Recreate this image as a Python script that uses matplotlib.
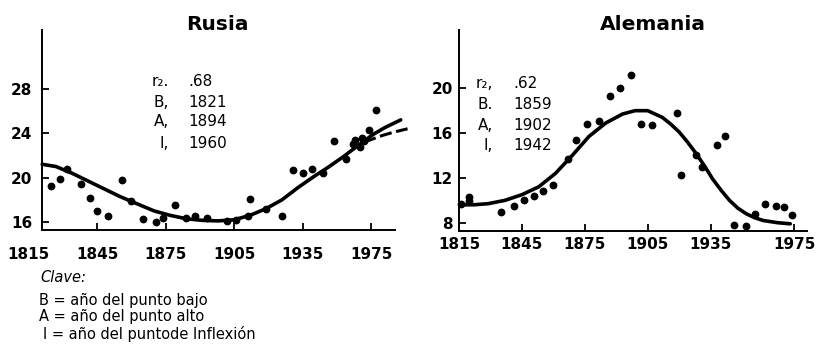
import matplotlib
matplotlib.use("Agg")
import matplotlib.pyplot as plt

# Rusia: ejes tal como en la figura (marca final "1975" a 30 años de 1935)
rus_tick_pos = [1815, 1845, 1875, 1905, 1935, 1965]
rus_tick_lab = ['1815', '1845', '1875', '1905', '1935', '1975']
rus_yticks = [16, 20, 24, 28]

rus_years = [1825, 1829, 1832, 1838, 1842, 1845, 1850, 1856, 1860, 1865, 1871,
             1874, 1879, 1884, 1888, 1893, 1902, 1906, 1911, 1912, 1919, 1926,
             1931, 1935, 1939, 1944, 1949, 1954, 1957, 1958, 1960, 1961, 1962,
             1964, 1967]
rus_vals = [19.2, 19.9, 20.8, 19.4, 18.2, 17.0, 16.5, 19.8, 17.9, 16.3, 16.0,
            16.4, 17.5, 16.4, 16.5, 16.4, 16.1, 16.2, 16.5, 18.1, 17.2, 16.5,
            20.7, 20.4, 20.8, 20.4, 23.3, 21.7, 23.0, 23.4, 22.8, 23.6, 23.3,
            24.3, 26.1]

rus_curve_years = [1821, 1827, 1834, 1841, 1848, 1855, 1863, 1870, 1877, 1884,
                   1891, 1898, 1905, 1912, 1919, 1926, 1933, 1940, 1946, 1953,
                   1960, 1966, 1971, 1978]
rus_curve_vals = [21.2, 21.0, 20.4, 19.7, 19.0, 18.3, 17.6, 17.0, 16.6, 16.3,
                  16.15, 16.1, 16.2, 16.6, 17.2, 18.0, 19.1, 20.1, 20.9, 21.9,
                  23.0, 23.9, 24.5, 25.2]
rus_dash_years = [1962, 1966, 1970, 1975, 1981]
rus_dash_vals = [23.2, 23.5, 23.8, 24.1, 24.4]

# Alemania
ale_tick_pos = [1815, 1845, 1875, 1905, 1935, 1975]
ale_tick_lab = ['1815', '1845', '1875', '1905', '1935', '1975']
ale_yticks = [8, 12, 16, 20]

ale_years = [1816, 1820, 1820, 1835, 1841, 1846, 1851, 1855, 1860, 1867, 1871,
             1876, 1882, 1887, 1892, 1897, 1902, 1907, 1919, 1921, 1928, 1931,
             1938, 1942, 1946, 1952, 1956, 1961, 1966, 1970, 1974]
ale_vals = [9.7, 9.9, 10.3, 9.0, 9.5, 10.0, 10.4, 10.8, 11.4, 13.7, 15.4,
            16.8, 17.1, 19.3, 20.0, 21.2, 16.8, 16.7, 17.8, 12.3, 14.0, 13.0,
            14.9, 15.7, 7.8, 7.7, 8.8, 9.7, 9.5, 9.4, 8.7]

ale_curve_years = [1815, 1822, 1829, 1837, 1845, 1853, 1861, 1869, 1877, 1885,
                   1893, 1899, 1905, 1912, 1916, 1920, 1924, 1928, 1932, 1936,
                   1940, 1944, 1948, 1952, 1956, 1960, 1967, 1973]
ale_curve_vals = [9.6, 9.6, 9.7, 10.0, 10.5, 11.2, 12.4, 14.0, 15.7, 16.9,
                  17.7, 18.0, 18.0, 17.4, 16.8, 16.1, 15.2, 14.2, 13.1, 11.9,
                  10.9, 10.0, 9.3, 8.8, 8.45, 8.2, 8.0, 7.9]

rus_stats = [('r\u2082.', '.68'), ('B,', '1821'), ('A,', '1894'), ('I,', '1960')]
ale_stats = [('r\u2082,', '.62'), ('B.', '1859'), ('A,', '1902'), ('I,', '1942')]

W, H = 816, 355
fig = plt.figure(figsize=(W / 100, H / 100), dpi=100)


def px_axes(x0, x1, y0, y1):
    return fig.add_axes([x0 / W, 1 - y1 / H, (x1 - x0) / W, (y1 - y0) / H])


def style(ax, xpad, ypad):
    for s in ['top', 'right']:
        ax.spines[s].set_visible(False)
    for s in ['left', 'bottom']:
        ax.spines[s].set_linewidth(1.4)
    ax.tick_params(direction='in', length=5, width=1.3)
    ax.tick_params(axis='x', pad=xpad)
    ax.tick_params(axis='y', pad=ypad)
    for lab in ax.get_xticklabels() + ax.get_yticklabels():
        lab.set_fontsize(11)
        lab.set_fontweight('bold')


# ---- Rusia
ax1 = px_axes(28.5, 395, 30, 230)
ax1.set_xlim(1815, 1975.5)
ax1.set_ylim(15.28, 33.3)
ax1.spines['left'].set_position(('data', 1821))
ax1.spines['bottom'].set_bounds(1821, 1975.5)
ax1.plot(rus_curve_years, rus_curve_vals, color='black', lw=2.6, clip_on=False,
         solid_capstyle='round', solid_joinstyle='round')
ax1.plot(rus_dash_years, rus_dash_vals, color='black', lw=2.2, ls=(0, (4, 1.5)),
         clip_on=False)
ax1.plot(rus_years, rus_vals, 'o', color='black', ms=4.6, clip_on=False)
ax1.set_xticks(rus_tick_pos)
ax1.set_xticklabels(rus_tick_lab)
ax1.set_yticks(rus_yticks)
style(ax1, 12, 7)
ax1.xaxis.get_major_ticks()[0].tick1line.set_visible(False)

for i, (k, v) in enumerate(rus_stats):
    y = 1 - [82, 102, 122, 143][i] / H
    fig.text(169 / W, y, k, ha='right', va='center', fontsize=11)
    fig.text(188 / W, y, v, ha='left', va='center', fontsize=11)

# ---- Alemania
ax2 = px_axes(459, 807, 30, 231)
ax2.set_xlim(1815, 1981)
ax2.set_ylim(7.26, 25.2)
ax2.plot(ale_curve_years, ale_curve_vals, color='black', lw=2.6,
         solid_capstyle='round', solid_joinstyle='round')
ax2.plot(ale_years, ale_vals, 'o', color='black', ms=4.6, clip_on=False)
ax2.set_xticks(ale_tick_pos)
ax2.set_xticklabels(ale_tick_lab)
ax2.set_yticks(ale_yticks)
style(ax2, 4, 4.5)

for i, (k, v) in enumerate(ale_stats):
    y = 1 - [84, 104, 125, 146][i] / H
    fig.text(493 / W, y, k, ha='right', va='center', fontsize=11)
    fig.text(513 / W, y, v, ha='left', va='center', fontsize=11)

# títulos
fig.text(217 / W, 1 - 24.5 / H, 'Rusia', ha='center', va='center',
         fontsize=14.5, fontweight='bold')
fig.text(653 / W, 1 - 24 / H, 'Alemania', ha='center', va='center',
         fontsize=14.5, fontweight='bold')

# clave
fig.text(40 / W, 1 - 278 / H, 'Clave:', ha='left', va='center', fontsize=10.5,
         style='italic')
fig.text(39 / W, 1 - 301 / H, 'B = año del punto bajo', ha='left', va='center',
         fontsize=10.5)
fig.text(39 / W, 1 - 317 / H, 'A = año del punto alto', ha='left', va='center',
         fontsize=10.5)
fig.text(43 / W, 1 - 334 / H, 'I = año del puntode Inflexión', ha='left',
         va='center', fontsize=10.5)

fig.savefig('out.png', dpi=100)
